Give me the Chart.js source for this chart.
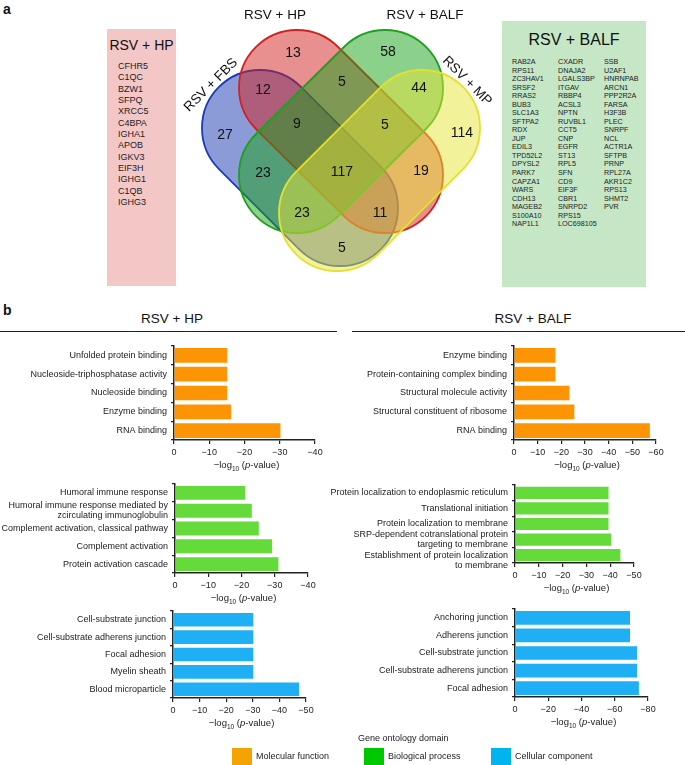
<!DOCTYPE html>
<html>
<head>
<meta charset="utf-8">
<script src="https://cdn.jsdelivr.net/npm/chart.js@4.4.1/dist/chart.umd.min.js"></script>
<style>
  body { margin: 0; background: #fff; }
  #page { position: relative; width: 685px; height: 765px; overflow: hidden;
          font-family: 'Liberation Sans', Arial, Helvetica, sans-serif; color: #111; }
  .t { position: absolute; white-space: nowrap; line-height: 1; }
  canvas { position: absolute; }
</style>
</head>
<body>
<div id="page"></div>
<script>
// ---- data ----
const setNames = ['RSV + FBS', 'RSV + HP', 'RSV + BALF', 'RSV + MP'];
const vennCounts = [13, 58, 12, 5, 44, 27, 9, 5, 114, 23, 117, 19, 23, 11, 5];

const hpOnlyGenes = ['CFHR5', 'C1QC', 'BZW1', 'SFPQ', 'XRCC5', 'C4BPA', 'IGHA1', 'APOB',
  'IGKV3', 'EIF3H', 'IGHG1', 'C1QB', 'IGHG3'];
const balfOnlyGenes = ['RAB2A', 'RPS11', 'ZC3HAV1', 'SRSF2', 'RRAS2', 'BUB3', 'SLC1A3', 'SFTPA2',
  'RDX', 'JUP', 'EDIL3', 'TPD52L2', 'DPYSL2', 'PARK7', 'CAPZA1', 'WARS', 'CDH13', 'MAGEB2',
  'S100A10', 'NAP1L1',
  'CXADR', 'DNAJA2', 'LGALS3BP', 'ITGAV', 'RBBP4', 'ACSL3', 'NPTN', 'RUVBL1', 'CCT5', 'CNP',
  'EGFR', 'ST13', 'RPL5', 'SFN', 'CD9', 'EIF3F', 'CBR1', 'SNRPD2', 'RPS15', 'LOC698105',
  'SSB', 'U2AF1', 'HNRNPAB', 'ARCN1', 'PPP2R2A', 'FARSA', 'H3F3B', 'PLEC', 'SNRPF', 'NCL',
  'ACTR1A', 'SFTPB', 'PRNP', 'RPL27A', 'AKR1C2', 'RPS13', 'SHMT2', 'PVR'];

const hpMfLabels = ['Unfolded protein binding', 'Nucleoside-triphosphatase activity',
  'Nucleoside binding', 'Enzyme binding', 'RNA binding'];
const hpMfValues = [-15.1, -15.1, -15.1, -16.2, -30.2];

const balfMfLabels = ['Enzyme binding', 'Protein-containing complex binding',
  'Structural molecule activity', 'Structural constituent of ribosome', 'RNA binding'];
const balfMfValues = [-17.5, -17.5, -23.4, -25.5, -57.4];

const hpBpLabels = ['Humoral immune response',
  ['Humoral immune response mediated by', 'zcirculating immunoglobulin'],
  'Complement activation, classical pathway', 'Complement activation', 'Protein activation cascade'];
const hpBpValues = [-21.1, -23.1, -25.2, -29.2, -31.1];

const balfBpLabels = ['Protein localization to endoplasmic reticulum', 'Translational initiation',
  'Protein localization to membrane',
  ['SRP-dependent cotranslational protein', 'targeting to membrane'],
  ['Establishment of protein localization', 'to membrane']];
const balfBpValues = [-39.3, -39.3, -39.3, -40.4, -44.3];

const hpCcLabels = ['Cell-substrate junction', 'Cell-substrate adherens junction',
  'Focal adhesion', 'Myelin sheath', 'Blood microparticle'];
const hpCcValues = [-30.2, -30.2, -30.2, -30.2, -47.4];

const balfCcLabels = ['Anchoring junction', 'Adherens junction', 'Cell-substrate junction',
  'Cell-substrate adherens junction', 'Focal adhesion'];
const balfCcValues = [-69.2, -69.2, -73.4, -73.4, -74.5];

const domainNames = ['Molecular function', 'Biological process', 'Cellular component'];

// ---- helpers ----
const page = document.getElementById('page');
const FONT = "'Liberation Sans', Arial, Helvetica, sans-serif";

function text(str, x, y, size, align, extra) {
  const d = document.createElement('div');
  d.className = 't';
  d.innerHTML = str;
  d.style.left = x + 'px';
  d.style.top = y + 'px';
  d.style.fontSize = size + 'px';
  const tx = align === 'center' ? '-50%' : align === 'right' ? '-100%' : '0';
  d.style.transform = `translate(${tx},-50%)`;
  if (extra) Object.assign(d.style, extra);
  page.appendChild(d);
  return d;
}
function box(x, y, w, h, color) {
  const d = document.createElement('div');
  Object.assign(d.style, { position: 'absolute', left: x + 'px', top: y + 'px',
    width: w + 'px', height: h + 'px', background: color });
  page.appendChild(d);
}

// ---- panel a: side lists ----
text('a', 3, 9, 14, 'left', { fontWeight: 'bold' });

box(107, 29, 69, 257, '#f4c7c7');
text(setNames[1], 141.5, 45, 14, 'center');
hpOnlyGenes.forEach((g, i) => text(g, 118, 66 + i * 11.33, 9, 'left', { color: '#222' }));

box(502, 21, 144, 266, '#c5e7c5');
text(setNames[2], 574, 40, 16, 'center');
balfOnlyGenes.forEach((g, i) => {
  const col = Math.floor(i / 20), row = i % 20;
  text(g, [512, 558, 604][col], 62 + row * 8.54, 7.2, 'left', { color: '#222' });
});

// ---- Venn diagram drawn on a Chart.js canvas through its scales ----
const vennCanvas = document.createElement('canvas');
vennCanvas.width = 685; vennCanvas.height = 295;
vennCanvas.style.left = '0px'; vennCanvas.style.top = '0px';
page.appendChild(vennCanvas);

const vennShapes = [
  { c1: [260, 128], c2: [340, 208], fill: 'rgba(23,55,177,0.5)', line: '#1a3cb4' },  // FBS
  { c1: [297, 88],  c2: [385, 175], fill: 'rgba(209,31,31,0.5)', line: '#d42020' },  // HP
  { c1: [385, 88],  c2: [297, 175], fill: 'rgba(23,161,23,0.5)', line: '#1ea01e' },  // BALF
  { c1: [422, 128], c2: [337, 213], fill: 'rgba(229,229,53,0.5)', line: '#e4e030' }  // MP
];
const vennSpots = [[293, 53], [388, 52], [263, 90], [342, 82], [419, 88], [225, 135],
  [297, 124], [385, 125], [462, 133], [263, 173], [342, 172], [421, 171], [302, 213],
  [380, 213], [342, 248]];
const vennNamePos = [[211, 85, -45], [275, 15, 0], [425, 15, 0], [467, 81, 45]];

const vennPlugin = {
  id: 'venn',
  afterDraw(chart) {
    const ctx = chart.ctx, sx = chart.scales.x, sy = chart.scales.y;
    const px = v => sx.getPixelForValue(v), py = v => sy.getPixelForValue(v);
    const r = px(58) - px(0);
    vennShapes.forEach(s => {
      const a = [px(s.c1[0]), py(s.c1[1])], b = [px(s.c2[0]), py(s.c2[1])];
      const th = Math.atan2(b[1] - a[1], b[0] - a[0]);
      ctx.beginPath();
      ctx.arc(a[0], a[1], r, th + Math.PI / 2, th + 3 * Math.PI / 2);
      ctx.arc(b[0], b[1], r, th - Math.PI / 2, th + Math.PI / 2);
      ctx.closePath();
      ctx.fillStyle = s.fill;
      ctx.fill();
      ctx.lineWidth = 1.8;
      ctx.strokeStyle = s.line;
      ctx.stroke();
    });
    ctx.fillStyle = '#111';
    ctx.textAlign = 'center';
    ctx.textBaseline = 'middle';
    ctx.font = '14px ' + FONT;
    vennCounts.forEach((n, i) => ctx.fillText(String(n), px(vennSpots[i][0]), py(vennSpots[i][1])));
    ctx.font = '13.5px ' + FONT;
    setNames.forEach((name, i) => {
      const [x, y, rot] = vennNamePos[i];
      ctx.save();
      ctx.translate(px(x), py(y));
      ctx.rotate(rot * Math.PI / 180);
      ctx.fillText(name, 0, 0);
      ctx.restore();
    });
  }
};

new Chart(vennCanvas, {
  type: 'scatter',
  data: { datasets: [{ data: [] }] },
  options: {
    responsive: false, animation: false, devicePixelRatio: 1,
    layout: { padding: 0 },
    plugins: { legend: { display: false }, tooltip: { enabled: false } },
    scales: {
      x: { type: 'linear', min: 0, max: 685, display: false },
      y: { type: 'linear', min: 0, max: 295, reverse: true, display: false }
    }
  },
  plugins: [vennPlugin]
});

// ---- panel b ----
text('b', 3, 310, 14, 'left', { fontWeight: 'bold' });
text(setNames[1], 172, 319, 13.5, 'center');
text(setNames[2], 533, 319, 13.5, 'center');
box(0, 330.5, 337, 1.3, '#222');
box(352, 330.5, 333, 1.3, '#222');

const orange = '#fd9404', green = '#64da3b', blue = '#1eaff4';

function barChart(o) {
  const cv = document.createElement('canvas');
  const w = o.endX + 14 - o.left, h = o.bottom - o.top + 2 + 22;
  cv.width = w; cv.height = h;
  cv.style.left = o.left + 'px';
  cv.style.top = (o.top - 2) + 'px';
  page.appendChild(cv);
  const font = { family: FONT, size: 9 };
  // the last two-line label sits a bit low in the original: push it down one line
  const labels = o.lowLast
    ? o.labels.map((l, i) => i === o.labels.length - 1 ? [''].concat(l) : l)
    : o.labels;
  new Chart(cv, {
    type: 'bar',
    data: {
      labels,
      datasets: [{ data: o.values, backgroundColor: o.color, borderWidth: 0,
        barPercentage: 0.78, categoryPercentage: 1 }]
    },
    options: {
      indexAxis: 'y', responsive: false, animation: false, devicePixelRatio: 1,
      layout: { padding: { top: 2, right: 14, left: 0, bottom: 0 } },
      plugins: { legend: { display: false }, tooltip: { enabled: false } },
      scales: {
        x: {
          min: -o.max, max: 0, reverse: true,
          ticks: { stepSize: o.step, font, color: '#222', padding: 3, maxRotation: 0,
            autoSkip: false,
            callback: v => v === 0 ? '0' : '\u2212' + Math.abs(v) },
          grid: { drawOnChartArea: false, tickLength: 4, color: '#222', lineWidth: 1.2 },
          border: { color: '#222', width: 1.5 },
          afterFit: s => { s.height = 22; s.paddingLeft = 0; s.paddingRight = 0; }
        },
        y: {
          ticks: { font: { family: FONT, size: 9, lineHeight: 1.12 }, color: '#222', padding: 4,
            autoSkip: false },
          grid: { drawOnChartArea: false, tickLength: 3, color: '#222', lineWidth: 1.2 },
          border: { color: '#222', width: 1.5 },
          afterFit: s => { s.width = o.axisX - o.left; s.paddingTop = 0; s.paddingBottom = 0; }
        }
      }
    }
  });
  text('\u2212log<sub style="font-size:6.5px">10</sub> (<i>p</i>-value)',
    (o.axisX + o.endX) / 2 + 2, o.bottom + 26, 9.5, 'center', { color: '#222' });
}

barChart({ labels: hpMfLabels, values: hpMfValues, color: orange, max: 40, step: 10,
  left: 0, axisX: 174, endX: 315, top: 346, bottom: 440 });
barChart({ labels: balfMfLabels, values: balfMfValues, color: orange, max: 60, step: 10,
  left: 320, axisX: 514, endX: 656, top: 346, bottom: 440 });
barChart({ labels: hpBpLabels, values: hpBpValues, color: green, max: 40, step: 10,
  left: 0, axisX: 175, endX: 308, top: 484, bottom: 573 });
barChart({ labels: balfBpLabels, values: balfBpValues, color: green, max: 50, step: 10,
  left: 320, axisX: 515, endX: 634, top: 485, bottom: 563, lowLast: true });
barChart({ labels: hpCcLabels, values: hpCcValues, color: blue, max: 50, step: 10,
  left: 0, axisX: 173, endX: 306, top: 611, bottom: 698 });
barChart({ labels: balfCcLabels, values: balfCcValues, color: blue, max: 80, step: 20,
  left: 320, axisX: 515, endX: 648, top: 609, bottom: 697 });

// ---- legend ----
text('Gene ontology domain', 358, 738, 9, 'left', { color: '#222' });
const swatchColors = ['#f5a300', '#00c800', '#00b4f0'];
const swatchX = [232, 364, 491];
domainNames.forEach((name, i) => {
  box(swatchX[i], 748, 20, 20, swatchColors[i]);
  text(name, swatchX[i] + 24, 756, 9, 'left', { color: '#222' });
});
</script>
</body>
</html>
